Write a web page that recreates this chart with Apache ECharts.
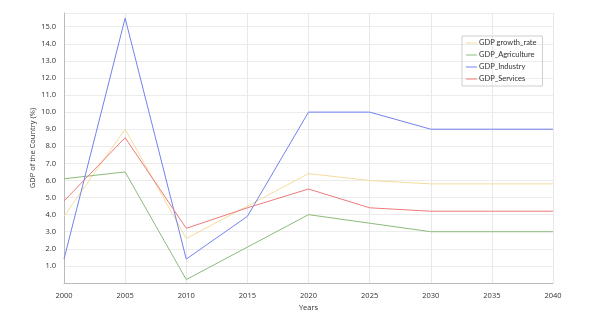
<!DOCTYPE html>
<html><head><meta charset="utf-8">
<script src="https://cdn.jsdelivr.net/npm/echarts@6/dist/echarts.min.js"></script>
<style>html,body{margin:0;padding:0;background:#fff}#c{width:614px;height:333px}</style>
</head><body><div id="c"></div>
<script>
const years = [2000, 2005, 2010, 2015, 2020, 2025, 2030, 2035, 2040];
const growthRate = [3.9, 9.0, 2.6, 4.5, 6.4, 6.0, 5.8, 5.8, 5.8];
const agriculture = [6.1, 6.5, 0.2, 2.1, 4.0, 3.5, 3.0, 3.0, 3.0];
const industry = [1.4, 15.5, 1.4, 3.9, 10.0, 10.0, 9.0, 9.0, 9.0];
const services = [4.8, 8.5, 3.2, 4.4, 5.5, 4.4, 4.2, 4.2, 4.2];
const seriesNames = ['GDP growth_rate', 'GDP_Agriculture', 'GDP_Industry', 'GDP_Services'];
const colors = ['#f3dc9c', '#8cba7c', '#7282f0', '#ef7a7a'];
const allData = [growthRate, agriculture, industry, services];

const font = 'Open Sans';
const chart = echarts.init(document.getElementById('c'));
chart.setOption({
  animation: false,
  textStyle: {fontFamily: font},
  grid: {left: 64, right: 61, top: 13, bottom: 50},
  legend: {
    orient: 'vertical', left: 462, top: 36,
    data: seriesNames,
    icon: 'rect', itemWidth: 11, itemHeight: 1, itemGap: 4,
    borderColor: '#cfcfcf', borderWidth: 1, padding: [3, 6, 3, 4],
    textStyle: {fontSize: 7.5, color: '#333', fontFamily: 'Lato', padding: [0, 0, 0, -3]}
  },
  xAxis: {
    type: 'value', min: 2000, max: 2040, interval: 5,
    name: 'Years', nameLocation: 'middle', nameGap: 21, nameMoveOverlap: false,
    nameTextStyle: {fontSize: 7.5, color: '#333'},
    axisLine: {show: true, lineStyle: {color: '#bbb'}},
    axisTick: {show: false},
    axisLabel: {fontSize: 7.5, color: '#333', margin: 9, formatter: v => String(v)},
    splitLine: {show: true, lineStyle: {color: '#e8e8e8'}}
  },
  yAxis: {
    type: 'value', min: 0, max: 15.8, interval: 1,
    name: 'GDP of the Country (%)', nameLocation: 'middle', nameGap: 27, nameMoveOverlap: false,
    nameTextStyle: {fontSize: 7.5, color: '#333'},
    axisLine: {show: true, lineStyle: {color: '#bbb'}},
    axisTick: {show: false},
    axisLabel: {fontSize: 7.5, color: '#333', margin: 8,
      formatter: v => (v < 0.5 || v > 15.05) ? '' : v.toFixed(1)},
    splitLine: {show: true, lineStyle: {color: '#ececec'}}
  },
  series: seriesNames.map((n, i) => ({
    name: n, type: 'line', symbol: 'none',
    data: years.map((y, j) => [y, allData[i][j]]),
    lineStyle: {width: 1, color: colors[i]},
    itemStyle: {color: colors[i]}
  }))
});
</script></body></html>
